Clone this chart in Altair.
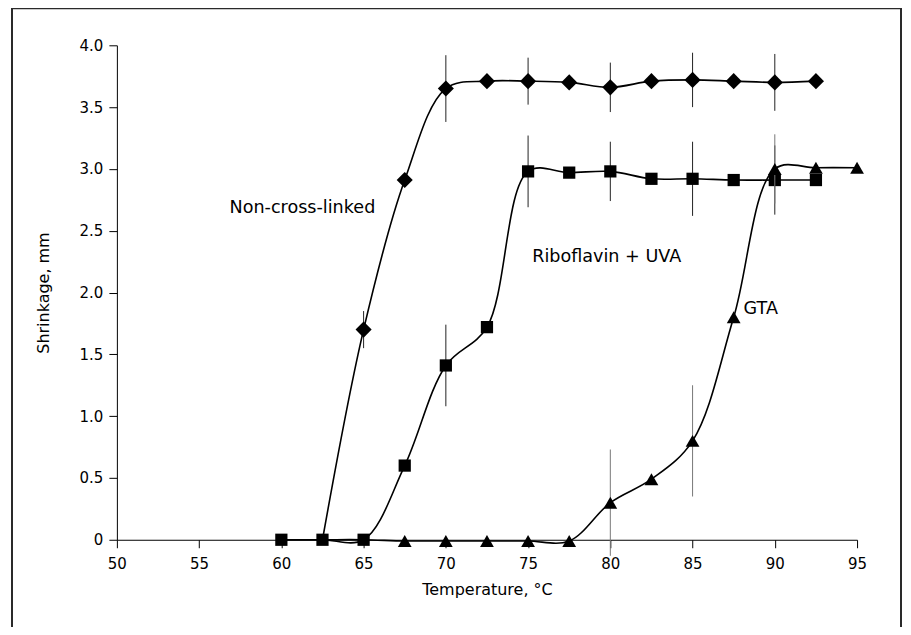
import altair as alt
import pandas as pd

# ---- data ----
temps_ncl = [62.5, 65, 67.5, 70, 72.5, 75, 77.5, 80, 82.5, 85, 87.5, 90, 92.5]
shr_ncl   = [0, 1.70, 2.91, 3.65, 3.71, 3.71, 3.70, 3.66, 3.71, 3.72, 3.71, 3.70, 3.71]
err_ncl   = [None, 0.15, None, 0.27, None, 0.19, None, 0.20, None, 0.22, None, 0.23, None]
show_ncl  = [False] + [True] * 12

temps_rib = [60, 62.5, 65, 67.5, 70, 72.5, 75, 77.5, 80, 82.5, 85, 87.5, 90, 92.5]
shr_rib   = [0, 0, 0, 0.60, 1.41, 1.72, 2.98, 2.97, 2.98, 2.92, 2.92, 2.91, 2.91, 2.91]
err_rib   = [None, None, None, None, 0.33, None, 0.29, None, 0.24, None, 0.30, None, 0.28, None]
show_rib  = [True] * 14

temps_gta = [60, 62.5, 65, 67.5, 70, 72.5, 75, 77.5, 80, 82.5, 85, 87.5, 90, 92.5, 95]
shr_gta   = [0, 0, 0, -0.01, -0.01, -0.01, -0.01, -0.01, 0.30, 0.49, 0.80, 1.80, 3.00, 3.01, 3.01]
err_gta   = [None, None, None, None, None, None, None, None, 0.43, None, 0.45, None, 0.28, None, None]
show_gta  = [False, False, False] + [True] * 12

labels_text = ["Non-cross-linked", "Riboflavin + UVA", "GTA"]
labels_x = [56.85, 75.25, 88.1]
labels_y = [2.68, 2.29, 1.87]

x_ticks = [50, 55, 60, 65, 70, 75, 80, 85, 90, 95]
y_ticks = [0, 0.5, 1.0, 1.5, 2.0, 2.5, 3.0, 3.5, 4.0]

FONT = "DejaVu Sans"

series = [
    ("Non-cross-linked", temps_ncl, shr_ncl, err_ncl, show_ncl, "diamond", 260, "#222222"),
    ("Riboflavin + UVA", temps_rib, shr_rib, err_rib, show_rib, "square", 150, "#222222"),
    ("GTA", temps_gta, shr_gta, err_gta, show_gta, "triangle-up", 190, "#777777"),
]

xs = alt.Scale(domain=[50, 95], nice=False, zero=False)
ys = alt.Scale(domain=[0, 4], nice=False)

x_axis = alt.Axis(values=x_ticks, title="Temperature, \u00b0C", grid=False,
                  tickSize=8, labelPadding=9, labelFontSize=15, titleFontSize=16,
                  labelFlush=False, labelOverlap=False,
                  titleFontWeight="normal", titleX=370.5, titleY=50,
                  titleBaseline="middle", titleAlign="center",
                  domainColor="black", tickColor="black", labelColor="black",
                  titleColor="black", labelFont=FONT, titleFont=FONT)
y_axis = alt.Axis(values=y_ticks, title="Shrinkage, mm", grid=False,
                  tickSize=8, labelPadding=6, labelFontSize=15, titleFontSize=16,
                  labelFlush=False, labelOverlap=False,
                  titleFontWeight="normal", titleX=-73, titleY=247.5,
                  titleAngle=-90, titleBaseline="middle", titleAlign="center",
                  labelExpr="datum.value == 0 ? '0' : format(datum.value, '.1f')",
                  domainColor="black", tickColor="black", labelColor="black",
                  titleColor="black", labelFont=FONT, titleFont=FONT)


def X(field):
    return alt.X(field, type="quantitative", scale=xs, axis=x_axis)


def Y(field):
    return alt.Y(field, type="quantitative", scale=ys, axis=y_axis)


layers = []

# decorative frame around the figure
frame = alt.Chart(pd.DataFrame({"a": [0]})).mark_rect(
    fill=None, stroke="#2a2a2a", strokeWidth=2, clip=False
).encode(x=alt.value(-105), x2=alt.value(785), y=alt.value(-37), y2=alt.value(640))
layers.append(frame)

for i, (name, t, s, e, show, shape, size, ecol) in enumerate(series):
    df = pd.DataFrame({"t": t, "s": s, "e": e, "show": show})
    df["lo"] = df["s"] - df["e"]
    df["hi"] = df["s"] + df["e"]
    base = alt.Chart(df)
    err = base.transform_filter("isValid(datum.e)").mark_rule(
        color=ecol, strokeWidth=1
    ).encode(x=X("t"), y=Y("lo"), y2="hi:Q")
    line = base.mark_line(color="black", strokeWidth=1.6, interpolate="catmull-rom").encode(
        x=X("t"), y=Y("s"))
    pts = base.transform_filter("datum.show").mark_point(
        shape=shape, size=size, filled=True, color="black", opacity=1
    ).encode(x=X("t"), y=Y("s"))
    layers += [err, line, pts]

lab_df = pd.DataFrame({"x": labels_x, "y": labels_y, "txt": labels_text})
labels = alt.Chart(lab_df).mark_text(
    align="left", baseline="middle", fontSize=17.6, font=FONT, color="black"
).encode(x=X("x"), y=Y("y"), text="txt:N")
layers.append(labels)

chart = alt.layer(*layers).properties(
    width=741, height=495,
    background="white",
    autosize=alt.AutoSizeParams(type="none"),
    padding={"left": 109, "top": 37, "right": 46, "bottom": 87},
).configure_view(stroke=None)

chart.save("out.html", embed_options={"renderer": "svg", "actions": False})
